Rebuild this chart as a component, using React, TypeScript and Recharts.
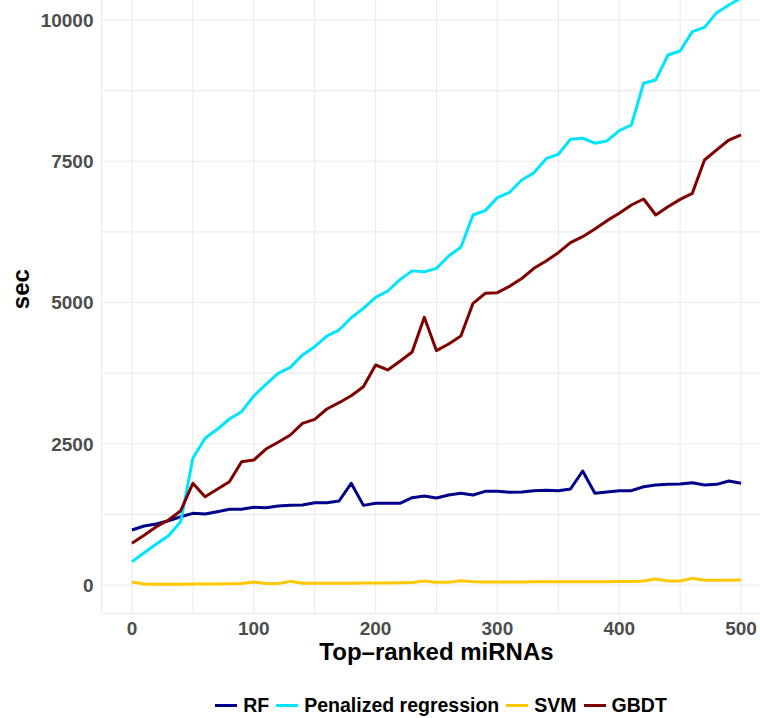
import React from 'react'
import { LineChart, Line, XAxis, YAxis, CartesianGrid, Legend } from 'recharts'

const miRNAs = [
  0, 10, 20, 30, 40, 50, 60, 70, 80, 90, 100, 110, 120, 130, 140, 150, 160, 170, 180, 190, 200,
  210, 220, 230, 240, 250, 260, 270, 280, 290, 300, 310, 320, 330, 340, 350, 360, 370, 380, 390,
  400, 410, 420, 430, 440, 450, 460, 470, 480, 490, 500,
]

const rf = [
  973, 1044, 1080, 1138, 1209, 1269, 1257, 1298, 1340, 1340, 1375, 1368, 1398, 1410, 1416, 1457,
  1457, 1487, 1800, 1410, 1446, 1446, 1446, 1545, 1575, 1540, 1593, 1623, 1593, 1658, 1658, 1640,
  1646, 1670, 1676, 1670, 1699, 2018, 1623, 1646, 1670, 1670, 1740, 1770, 1782, 1788, 1811, 1770,
  1782, 1841, 1800,
]

const penalized = [
  412, 572, 725, 873, 1120, 2243, 2597, 2756, 2938, 3068, 3345, 3552, 3747, 3853, 4071, 4218,
  4407, 4513, 4731, 4897, 5092, 5204, 5405, 5560, 5543, 5605, 5823, 5977, 6549, 6626, 6856, 6951,
  7168, 7298, 7546, 7624, 7889, 7907, 7819, 7859, 8041, 8142, 8880, 8939, 9381, 9452, 9794, 9870,
  10130, 10266, 10389,
]

const svm = [
  55, 18, 15, 15, 15, 18, 20, 20, 22, 25, 55, 25, 25, 65, 30, 30, 32, 32, 33, 35, 35, 37, 40, 45,
  70, 47, 47, 75, 58, 55, 55, 55, 55, 58, 58, 58, 60, 60, 60, 60, 62, 62, 70, 106, 70, 70, 118, 85,
  85, 85, 88,
]

const gbdt = [
  738, 880, 1032, 1150, 1315, 1800, 1563, 1694, 1828, 2182, 2212, 2407, 2526, 2655, 2862, 2933,
  3115, 3227, 3351, 3510, 3894, 3806, 3962, 4125, 4738, 4148, 4266, 4407, 4986, 5163, 5174, 5286,
  5425, 5605, 5735, 5882, 6059, 6165, 6301, 6449, 6579, 6726, 6832, 6549, 6696, 6826, 6932, 7522,
  7700, 7876, 7965,
]

const xTicks = [0, 50, 100, 150, 200, 250, 300, 350, 400, 450, 500]
const yTicks = [0, 1250, 2500, 3750, 5000, 6250, 7500, 8750, 10000]

const series = [
  { key: 'RF', label: 'RF', color: '#00008B' },
  { key: 'Penalized', label: 'Penalized regression', color: '#00E5FF' },
  { key: 'SVM', label: 'SVM', color: '#FFC800' },
  { key: 'GBDT', label: 'GBDT', color: '#800000' },
]

const data = miRNAs.map((n, i) => ({
  n,
  RF: rf[i],
  Penalized: penalized[i],
  SVM: svm[i],
  GBDT: gbdt[i],
}))

const FONT = '"Liberation Sans", Arial, Helvetica, sans-serif'
const tickStyle = { fill: '#4D4D4D', fontSize: 19, fontWeight: 700, fontFamily: FONT }

function YTitle(props: any) {
  const vb = props.viewBox || { x: 0, y: 0, width: 0, height: 0 }
  const x = vb.x + 29
  const y = vb.y + vb.height / 2 - 2
  return (
    <text
      x={x}
      y={y}
      transform={`rotate(-90, ${x}, ${y})`}
      textAnchor="middle"
      fill="#000"
      fontSize={24}
      fontWeight={700}
      fontFamily={FONT}
    >
      sec
    </text>
  )
}

function LegendContent() {
  return (
    <div
      style={{
        display: 'flex',
        justifyContent: 'center',
        alignItems: 'center',
        height: 24,
        lineHeight: '24px',
        fontFamily: FONT,
        fontWeight: 700,
        fontSize: 19.5,
        color: '#000',
      }}
    >
      {series.map((s, i) => (
        <div
          key={s.key}
          style={{ display: 'flex', alignItems: 'center', marginLeft: i === 0 ? 0 : 7 }}
        >
          <span
            style={{ display: 'inline-block', width: 22, height: 3, background: s.color, marginRight: 6 }}
          />
          <span>{s.label}</span>
        </div>
      ))}
    </div>
  )
}

export default function App() {
  return (
    <div
      style={{
        position: 'fixed',
        left: 0,
        top: 0,
        width: 760,
        height: 718,
        overflow: 'hidden',
        background: '#fff',
      }}
    >
      <div style={{ position: 'absolute', left: 0, top: -40 }}>
        <LineChart
          width={800}
          height={760}
          data={data}
          margin={{ top: 8.7, right: 28.5, bottom: 78.5, left: 0 }}
        >
          <CartesianGrid stroke="#EBEBEB" strokeWidth={1.1} />
          <XAxis
            dataKey="n"
            type="number"
            domain={[-25, 525]}
            ticks={xTicks}
            interval={0}
            height={28}
            axisLine={false}
            tickLine={false}
            tick={tickStyle}
            tickFormatter={(v: number) => (v % 100 === 0 ? String(v) : '')}
            label={{
              value: 'Top–ranked miRNAs',
              position: 'bottom',
              offset: 1.5,
              fill: '#000',
              fontSize: 24,
              fontWeight: 700,
              fontFamily: FONT,
            }}
          />
          <YAxis
            type="number"
            domain={[-504, 10908]}
            ticks={yTicks}
            interval={0}
            width={101.5}
            axisLine={false}
            tickLine={false}
            tick={tickStyle}
            tickFormatter={(v: number) => (v % 2500 === 0 ? String(v) : '')}
            label={<YTitle />}
          />
          <Legend
            verticalAlign="middle"
            align="center"
            layout="horizontal"
            wrapperStyle={{ top: 733, left: 41, width: 800, height: 24 }}
            content={<LegendContent />}
          />
          {series.map((s) => (
            <Line
              key={s.key}
              type="linear"
              dataKey={s.key}
              name={s.label}
              stroke={s.color}
              strokeWidth={3}
              strokeLinejoin="round"
              dot={false}
              activeDot={false}
              isAnimationActive={false}
            />
          ))}
        </LineChart>
      </div>
    </div>
  )
}
